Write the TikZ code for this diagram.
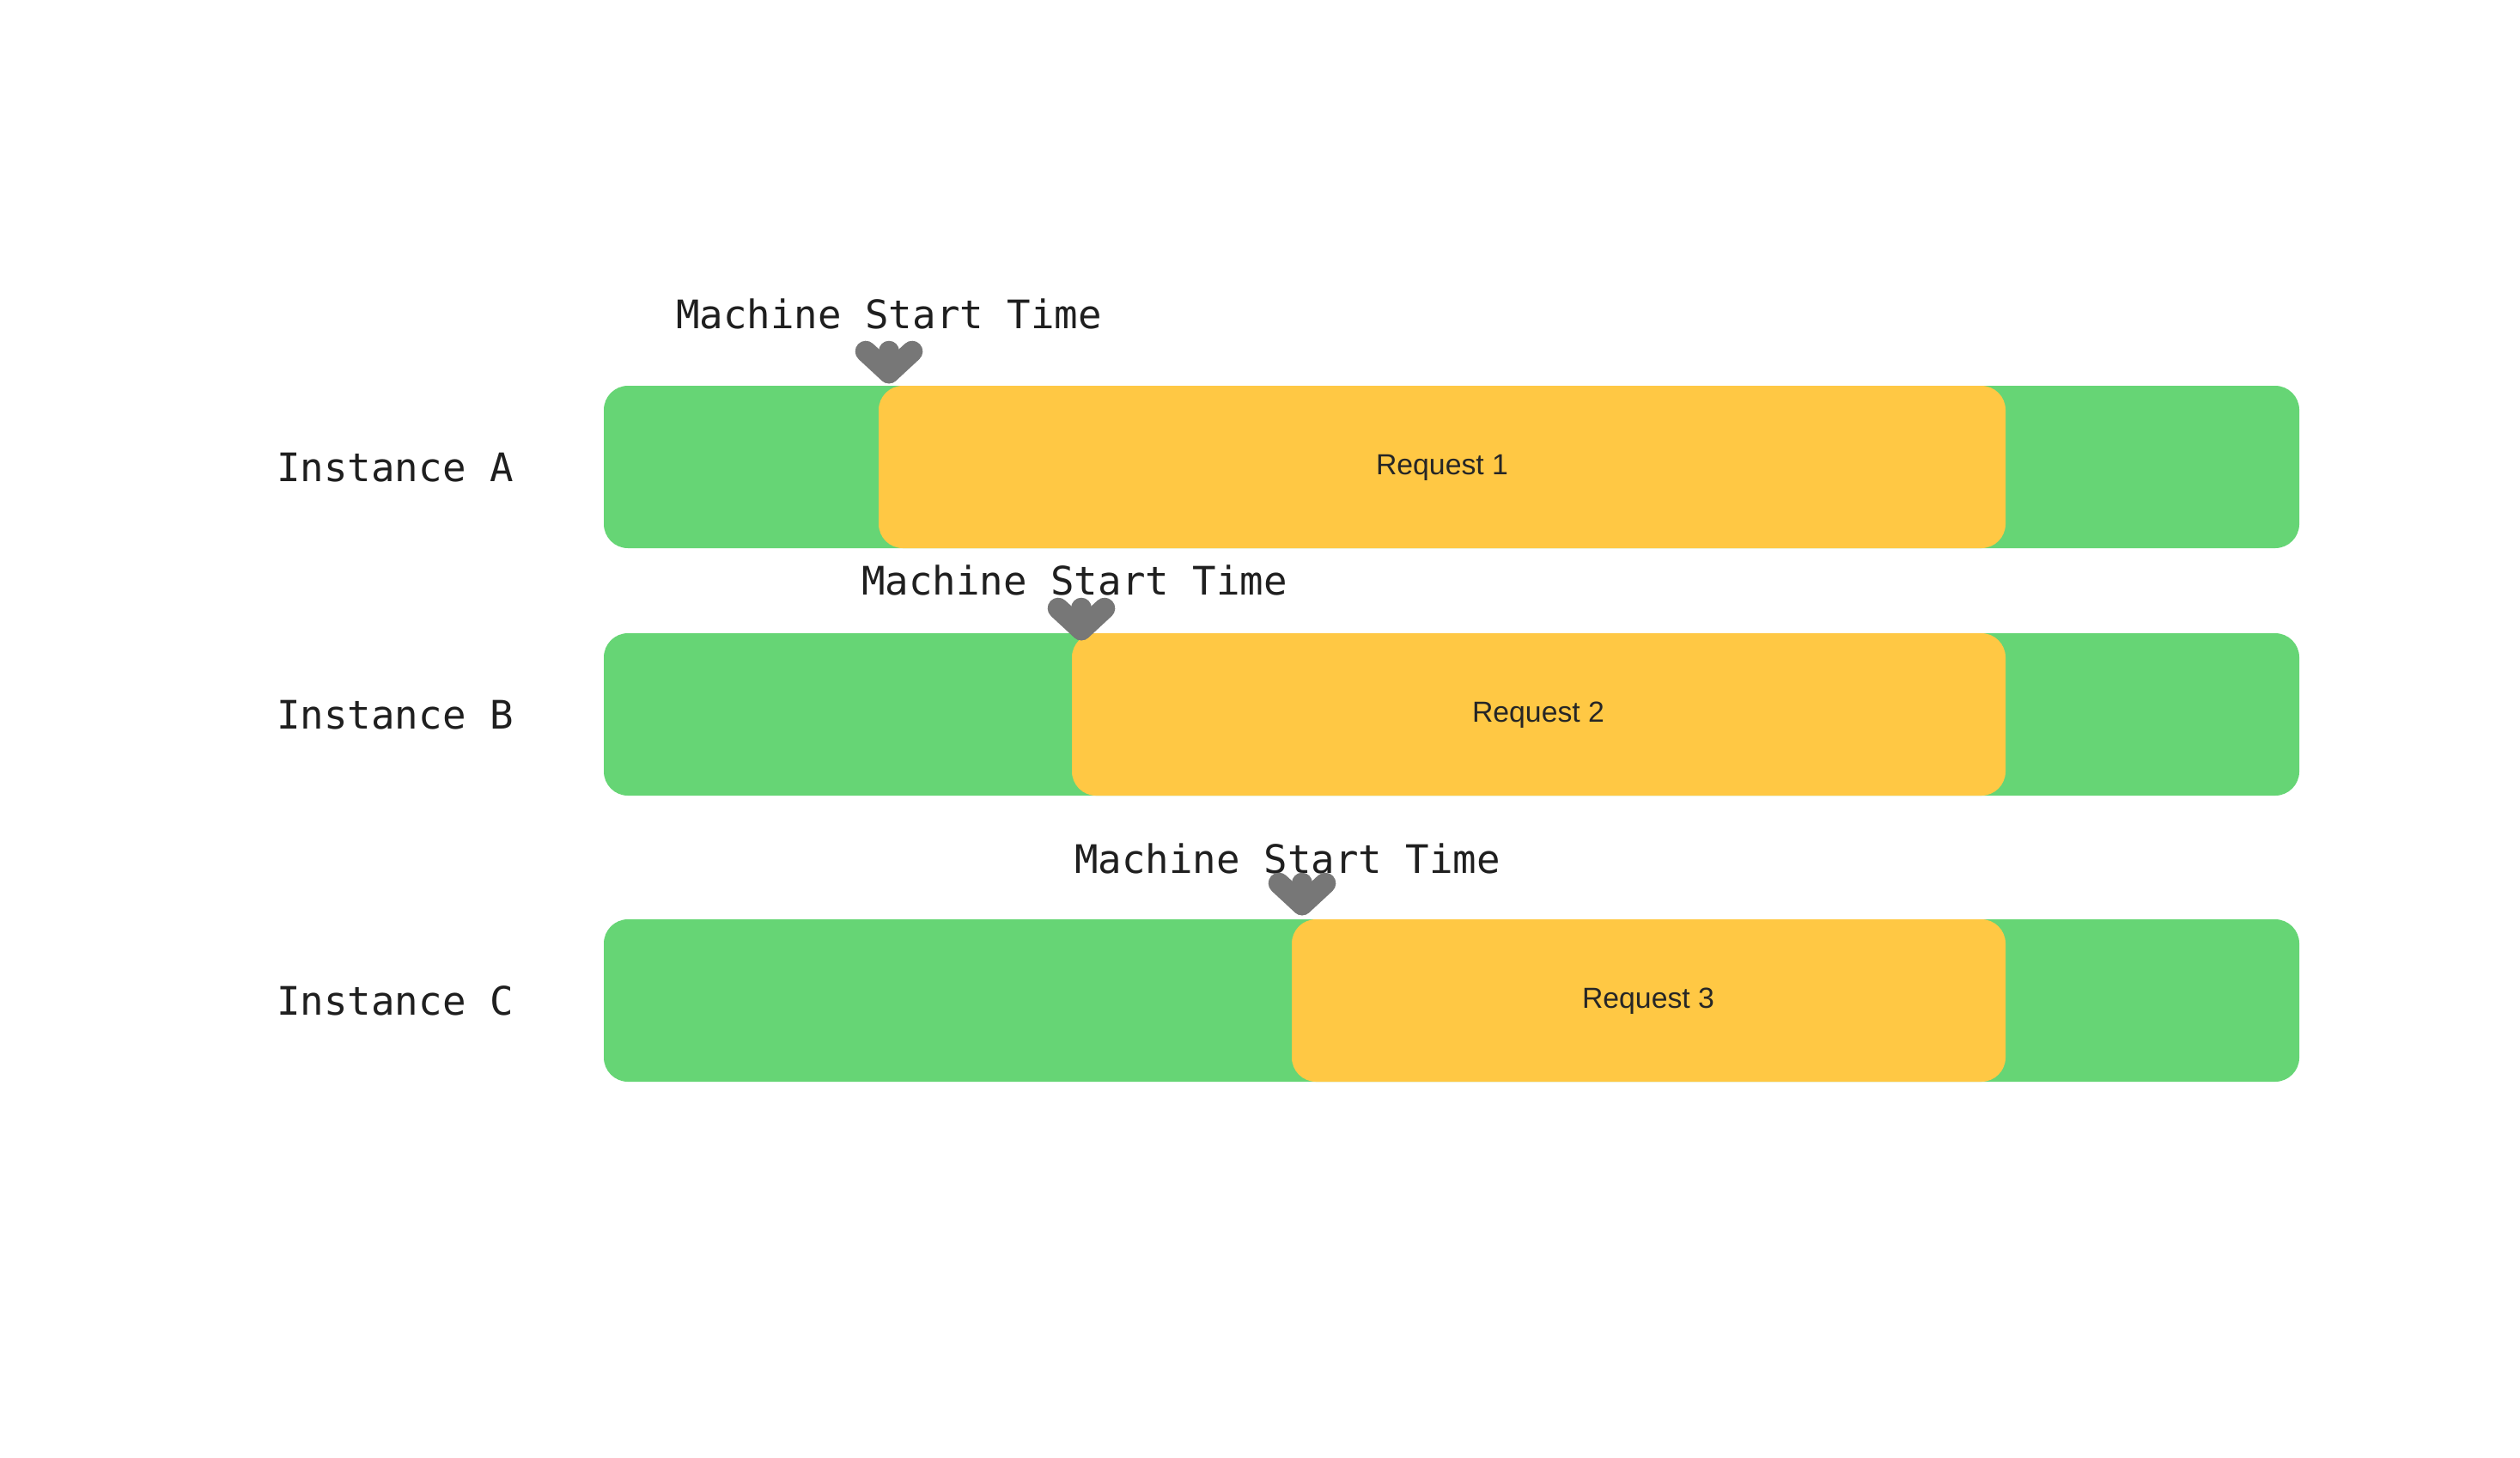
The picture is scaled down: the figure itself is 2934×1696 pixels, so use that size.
\documentclass[tikz,border=0pt]{standalone}
\usepackage{fontspec}
\usetikzlibrary{calc}
\setmainfont{Liberation Sans}
\newfontfamily\monof{DejaVu Sans Mono}
\definecolor{gbar}{HTML}{66D575}
\definecolor{obar}{HTML}{FFC844}
\definecolor{arr}{HTML}{777777}
\begin{document}
\begin{tikzpicture}[x=0.01cm,y=-0.01cm,
  greenbar/.style={fill=gbar,draw=none,rounded corners=8},
  reqbar/.style={fill=obar,draw=none,rounded corners=8,inner sep=0},
  lbl/.style={font=\monof\fontsize{13}{15}\selectfont,text=black!88,inner sep=0},
  req/.style={font=\fontsize{9.6}{11}\selectfont,text=black!85},
  startmark/.style={draw=arr,line width=7,line cap=round,line join=round}]
\useasboundingbox (0,0) rectangle (2934,1696);
% bars
\fill[greenbar] (703,449) rectangle (2677,638);
\fill[greenbar] (703,737) rectangle (2677,926);
\fill[greenbar] (703,1070) rectangle (2677,1259);
\fill[reqbar] (1023,449) rectangle (2335,638);
\fill[reqbar] (1248,737) rectangle (2335,926);
\fill[reqbar] (1504,1070) rectangle (2335,1259);
\node[req] (r1) at (1679,544) {Request 1};
\node[req] (r2) at (1791,832) {Request 2};
\node[req] (r3) at (1919,1165) {Request 3};
% labels
\node[lbl] (ia) at (460,544) {Instance A};
\node[lbl] (ib) at (460,832) {Instance B};
\node[lbl] (ic) at (460,1165) {Instance C};
\node[lbl] (ma) at (1035,365) {Machine Start Time};
\node[lbl] (mb) at (1251,675) {Machine Start Time};
\node[lbl] (mc) at (1499,999) {Machine Start Time};
% markers
\coordinate (ta) at (1035,434);
\coordinate (tb) at (1259,733);
\coordinate (tc) at (1516,1053);
\foreach \t in {ta,tb,tc}{
  \draw[startmark] ($(\t)+(-27,-25)$) -- (\t) -- ($(\t)+(27,-25)$);
  \draw[startmark] ($(\t)+(0,-25)$) -- (\t);
}
\end{tikzpicture}
\end{document}
